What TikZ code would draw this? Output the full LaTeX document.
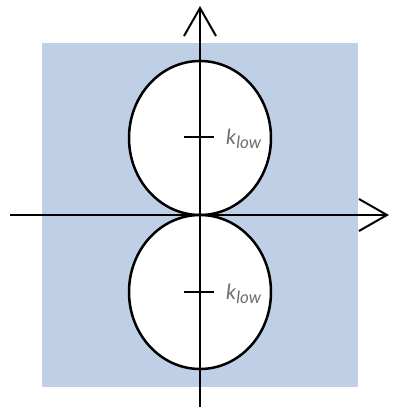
\documentclass[tikz,border=0pt]{standalone}
\usepackage{fontspec}
\setmainfont{Lato}
\usetikzlibrary{arrows.meta}
\definecolor{bgblue}{RGB}{190,207,230}
\definecolor{lbl}{RGB}{110,110,110}
\newcommand{\klowtext}{\textit{k}\raisebox{-4pt}{\fontsize{17}{17}\selectfont\textit{low}}}
\tikzset{
  axis/.style={line width=2pt,-{Straight Barb[length=28pt,width=32pt,line width=2pt]}},
  lobe/.style={draw=black,fill=white,line width=2.5pt},
  tick/.style={line width=2.2pt},
  klabel/.style={text=lbl,font=\fontsize{21}{21}\selectfont,anchor=west,inner sep=0pt}
}
\begin{document}
\begin{tikzpicture}[x=1pt,y=-1pt]
\useasboundingbox (0,0) rectangle (392,410);
\fill[bgblue] (42,43) rectangle (358,387);
\draw[lobe] (200,138) ellipse [x radius=71, y radius=77];
\draw[lobe] (200,292) ellipse [x radius=71, y radius=77];
\coordinate (xl) at (10,215);
\coordinate (xr) at (389,215);
\coordinate (yb) at (200,407);
\coordinate (yt) at (200,6);
\draw[axis] (xl) -- (xr);
\draw[axis] (yb) -- (yt);
\draw[tick] (184,137) -- (214,137);
\draw[tick] (184,292) -- (214,292);
\node[klabel] (k1) at (226,139) {\klowtext};
\node[klabel] (k2) at (226,294) {\klowtext};
\end{tikzpicture}
\end{document}
